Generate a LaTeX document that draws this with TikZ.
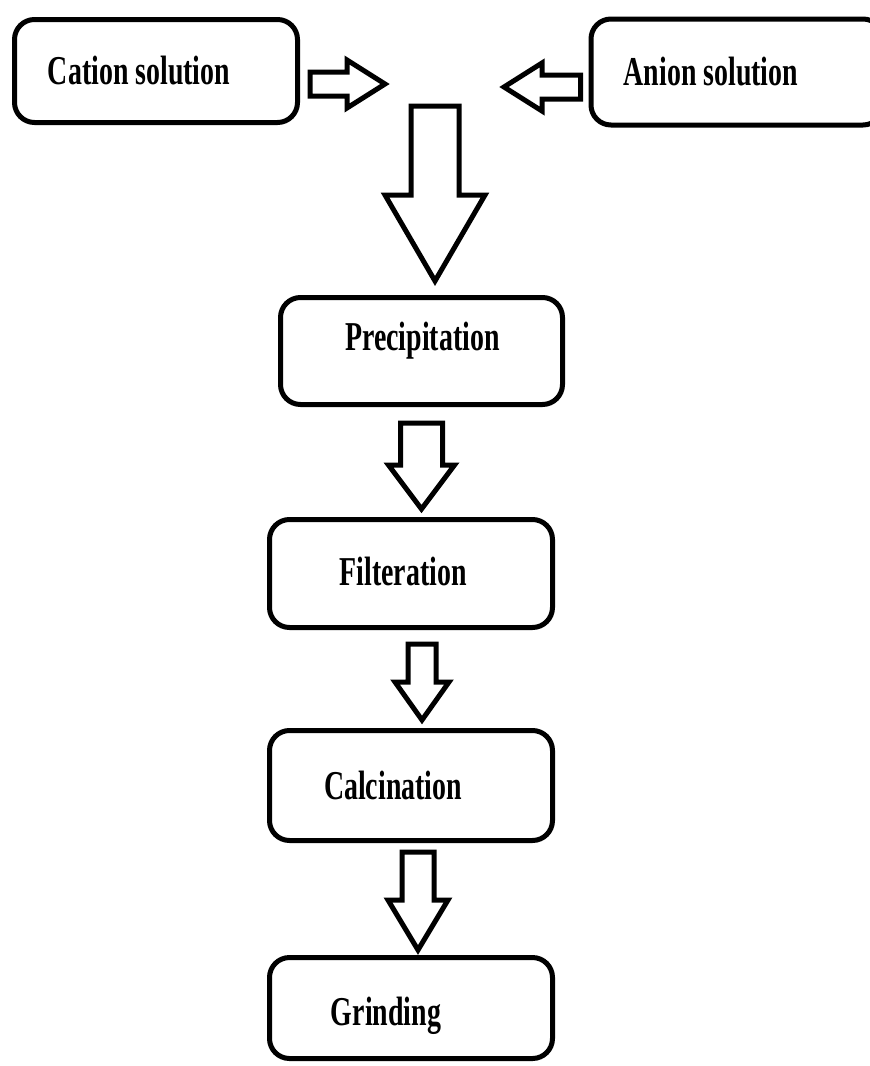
\documentclass[tikz,border=0pt]{standalone}
\usepackage{fontspec}
\setmainfont{Liberation Serif}[FakeStretch=0.68]
\usetikzlibrary{calc}

\tikzset{
  stepbox/.style={draw, line width=2.5pt, rounded corners=10pt, inner sep=0pt,
    font=\bfseries\fontsize{20.5}{24}\selectfont},
  blockarrow/.style={draw, line width=2.5pt, line join=miter, fill=white}
}

% label moved off the box centre: dx, dy, text
\newcommand{\steptext}[3]{\raisebox{#2}[\height][\depth]{\makebox[0pt]{\hspace*{#1}\hspace*{#1}#3}}}

% hollow block arrow pointing down: from, to, shaft half width, head half width, head length
\newcommand{\flowdown}[5]{%
  \draw[blockarrow] let \p1=(#1), \p2=(#2) in
    (\x1-#3,\y1) -- (\x1-#3,\y2+#5) -- (\x1-#4,\y2+#5) -- (\x1,\y2)
    -- (\x1+#4,\y2+#5) -- (\x1+#3,\y2+#5) -- (\x1+#3,\y1) -- cycle;}

% hollow block arrow pointing left or right
\newcommand{\flowside}[5]{%
  \draw[blockarrow] let \p1=(#1), \p2=(#2), \n1={sign(\x2-\x1)}, \n2={\x2-\n1*#5} in
    (\x1,\y1-#3) -- (\n2,\y1-#3) -- (\n2,\y1-#4) -- (\x2,\y1)
    -- (\n2,\y1+#4) -- (\n2,\y1+#3) -- (\x1,\y1+#3) -- cycle;}

\begin{document}
\begin{tikzpicture}[x=0.5pt, y=-0.5pt]
    \useasboundingbox (0,0) rectangle (870,1066);

    % the two feed solutions
    \node[stepbox, minimum width=141.5pt, minimum height=51.5pt] (cation) at (156,71) {\steptext{-8.5pt}{0pt}{Cation solution}};
    \node[stepbox, minimum width=146pt, minimum height=53pt] (anion) at (737,72) {\steptext{-13pt}{0pt}{Anion solution}};

    % where they meet
    \coordinate (mixL) at (385,84);
    \coordinate (mixR) at (504,87);
    \coordinate (mixD) at (435,106);

    % process steps
    \node[stepbox, minimum width=141pt, minimum height=53.5pt] (prec) at (421.5,351) {\steptext{0.5pt}{5pt}{Precipitation}};
    \node[stepbox, minimum width=141.5pt, minimum height=54pt] (filt) at (411,573.5) {\steptext{-4pt}{1pt}{Filteration}};
    \node[stepbox, minimum width=141.5pt, minimum height=55pt] (calc) at (411,785.5) {\steptext{-9pt}{0pt}{Calcination}};
    \node[stepbox, minimum width=141.5pt, minimum height=50.5pt] (grind) at (411,1008) {\steptext{-12.5pt}{-4pt}{Grinding}};

    % arrows
    \flowside{$(cation.east)+(5pt,-6.5pt)$}{mixL}{6pt}{12pt}{19pt}
    \flowside{$(anion.west)+(-4pt,-7.5pt)$}{mixR}{6pt}{12pt}{19pt}
    \flowdown{mixD}{$(prec.north)+(0,7pt)$}{12pt}{25pt}{43pt}
    \flowdown{$(prec.south)+(0,-8pt)$}{$(filt.north)+(0,4pt)$}{10.5pt}{16.5pt}{22pt}
    \flowdown{$(filt.south)+(5.5pt,-7pt)$}{$(calc.north)+(0,4pt)$}{7pt}{13.5pt}{19pt}
    \flowdown{$(calc.south)+(3.5pt,-4.5pt)$}{$(grind.north)+(0,2.5pt)$}{8pt}{15pt}{25pt}
\end{tikzpicture}
\end{document}
